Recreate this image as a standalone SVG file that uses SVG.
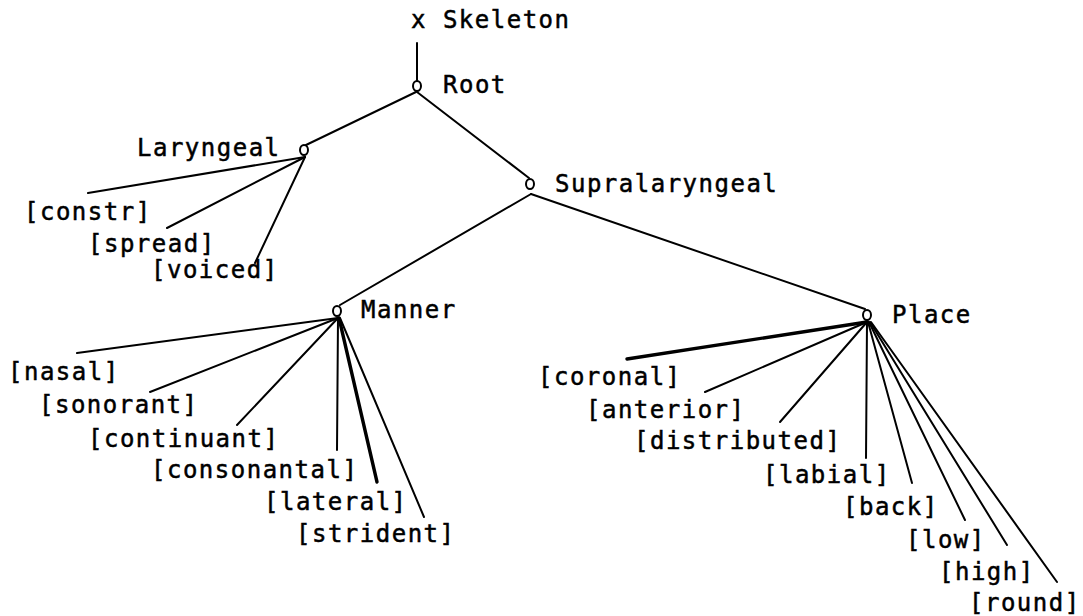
<svg xmlns="http://www.w3.org/2000/svg" width="1083" height="616" viewBox="0 0 1083 616">
<style>
text{font-family:"DejaVu Sans Mono","Liberation Mono",monospace;font-size:24px;letter-spacing:1.5px;fill:#000;stroke:#000;stroke-width:0.5}
.e{stroke:#000;stroke-width:2;fill:none;stroke-linecap:round}
.thick{stroke-width:3.4}
.n{fill:#fff;stroke:#000;stroke-width:2}
</style>
<rect width="1083" height="616" fill="#fff"/>
<g id="connectors">
<line class="e" x1="417" y1="43" x2="417" y2="81"/>
<line class="e" x1="416" y1="92" x2="306" y2="145"/>
<line class="e" x1="417" y1="92" x2="529" y2="178"/>
<line class="e" x1="531" y1="194" x2="340" y2="305"/>
<line class="e" x1="531" y1="194" x2="865" y2="309"/>
<line class="e" x1="305" y1="157" x2="88" y2="193"/>
<line class="e" x1="305" y1="157" x2="167" y2="228"/>
<line class="e" x1="305" y1="157" x2="255" y2="263"/>
<line class="e" x1="338" y1="318" x2="77" y2="353"/>
<line class="e" x1="338" y1="318" x2="150" y2="392"/>
<line class="e" x1="338" y1="318" x2="237" y2="425"/>
<line class="e" x1="338" y1="318" x2="337" y2="450"/>
<line class="e thick" x1="339" y1="318" x2="377" y2="482"/>
<line class="e" x1="340" y1="318" x2="424" y2="517"/>
<line class="e thick" x1="867" y1="322" x2="627" y2="359"/>
<line class="e" x1="867" y1="322" x2="705" y2="392"/>
<line class="e" x1="867" y1="322" x2="780" y2="422"/>
<line class="e" x1="867" y1="322" x2="866" y2="458"/>
<line class="e" x1="868" y1="322" x2="912" y2="483"/>
<line class="e" x1="869" y1="322" x2="965" y2="520"/>
<line class="e" x1="870" y1="322" x2="1007" y2="545"/>
<line class="e" x1="871" y1="322" x2="1057" y2="582"/>
</g>
<g id="skeleton"><text x="411" y="28">x Skeleton</text></g>
<g id="root"><ellipse class="n" cx="417" cy="86" rx="4" ry="5"/><text x="443" y="93">Root</text></g>
<g id="laryngeal"><ellipse class="n" cx="304" cy="150" rx="4" ry="5"/><text x="137" y="156">Laryngeal</text></g>
<g id="supralaryngeal"><ellipse class="n" cx="530" cy="184" rx="4" ry="5"/><text x="555" y="192">Supralaryngeal</text></g>
<g id="manner"><ellipse class="n" cx="337" cy="311" rx="4" ry="5"/><text x="361" y="318">Manner</text></g>
<g id="place"><ellipse class="n" cx="867" cy="315" rx="4" ry="5"/><text x="892" y="323">Place</text></g>
<g id="constr"><text x="24" y="220">[constr]</text></g>
<g id="spread"><text x="88" y="252">[spread]</text></g>
<g id="voiced"><text x="151" y="278">[voiced]</text></g>
<g id="nasal"><text x="8" y="380">[nasal]</text></g>
<g id="sonorant"><text x="39" y="413">[sonorant]</text></g>
<g id="continuant"><text x="88" y="447">[continuant]</text></g>
<g id="consonantal"><text x="151" y="478">[consonantal]</text></g>
<g id="lateral"><text x="264" y="510">[lateral]</text></g>
<g id="strident"><text x="296" y="542">[strident]</text></g>
<g id="coronal"><text x="538" y="385">[coronal]</text></g>
<g id="anterior"><text x="586" y="418">[anterior]</text></g>
<g id="distributed"><text x="634" y="449">[distributed]</text></g>
<g id="labial"><text x="763" y="483">[labial]</text></g>
<g id="back"><text x="843" y="515">[back]</text></g>
<g id="low"><text x="906" y="548">[low]</text></g>
<g id="high"><text x="939" y="580">[high]</text></g>
<g id="round"><text x="969" y="611">[round]</text></g>
</svg>
